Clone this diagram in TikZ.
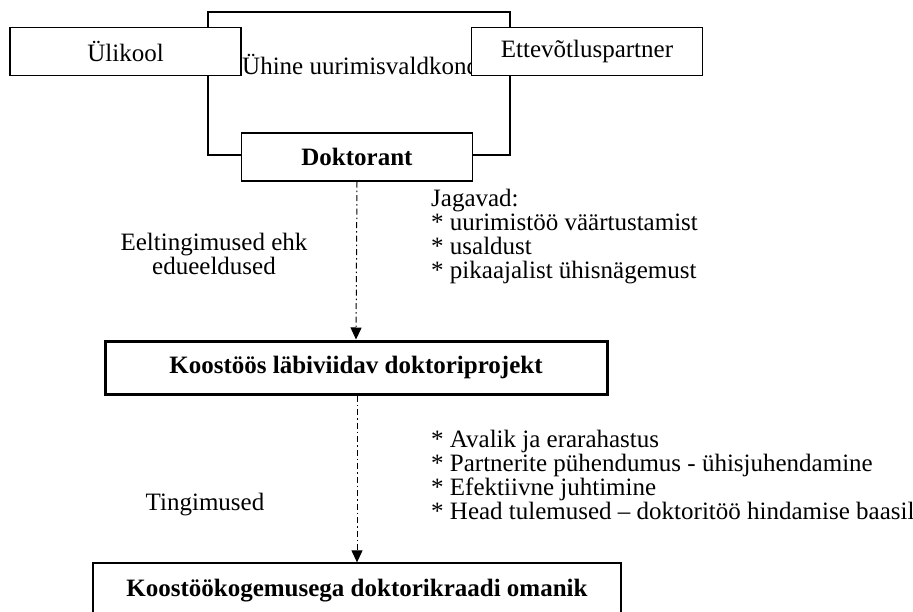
\documentclass[tikz,border=0pt]{standalone}
\usepackage{fontspec}
\setmainfont{Liberation Serif}
\usepackage{tikz}
\usetikzlibrary{arrows.meta}

\tikzset{
  unitbox/.style={draw, line width=1.3pt, fill=white, inner sep=0pt,
    minimum width=231pt, minimum height=48pt},
  flowline/.style={line width=1pt, dash pattern=on 6pt off 3pt on 1.5pt off 3pt,
    -{Triangle[width=11pt,length=12pt]}},
  notes/.style={align=left, inner sep=0pt, anchor=base west},
}

\begin{document}
\begin{tikzpicture}[x=1pt, y=-1pt, font=\fontsize{25pt}{24pt}\selectfont]
\useasboundingbox (0,0) rectangle (913,612);
\clip (0,0) rectangle (913,612);
\draw[line width=1.3pt] (208,12) rectangle (510,155);
\node[notes] (field) at (242,75) {Ühine uurimisvaldkond};
\node[unitbox] (uni) at (125.5,51.5) {Ülikool};
\node[unitbox] (firm) at (587,51.5) {Ettevõtluspartner};
\node[unitbox, font=\fontsize{25pt}{24pt}\selectfont\bfseries] (phd) at (357,157) {Doktorant};
\node[unitbox, line width=3pt, minimum width=502pt, minimum height=53pt,
  font=\fontsize{25pt}{24pt}\selectfont\bfseries] (project) at (356,367.5) {Koostöös läbiviidav doktoriprojekt};
\node[unitbox, minimum width=528pt, minimum height=56pt,
  font=\fontsize{25pt}{24pt}\selectfont\bfseries] (holder) at (357,591) {Koostöökogemusega doktorikraadi omanik};
\draw[flowline] (phd.south) -- (project.north);
\draw[flowline] (project.south -| phd.south) -- (holder.north -| phd.south);
% base anchor = last line
\node[notes] (shared) at (431,279) {Jagavad:\\* uurimistöö väärtustamist\\* usaldust\\* pikaajalist ühisnägemust};
\node[align=center, inner sep=0pt, anchor=base] (precond) at (214,275) {Eeltingimused ehk\\edueeldused};
\node[notes] (terms) at (431,519) {* Avalik ja erarahastus\\* Partnerite pühendumus - ühisjuhendamine\\* Efektiivne juhtimine\\* Head tulemused – doktoritöö hindamise baasil};
\node[inner sep=0pt, anchor=base] (conds) at (205,510) {Tingimused};
\end{tikzpicture}
\end{document}
